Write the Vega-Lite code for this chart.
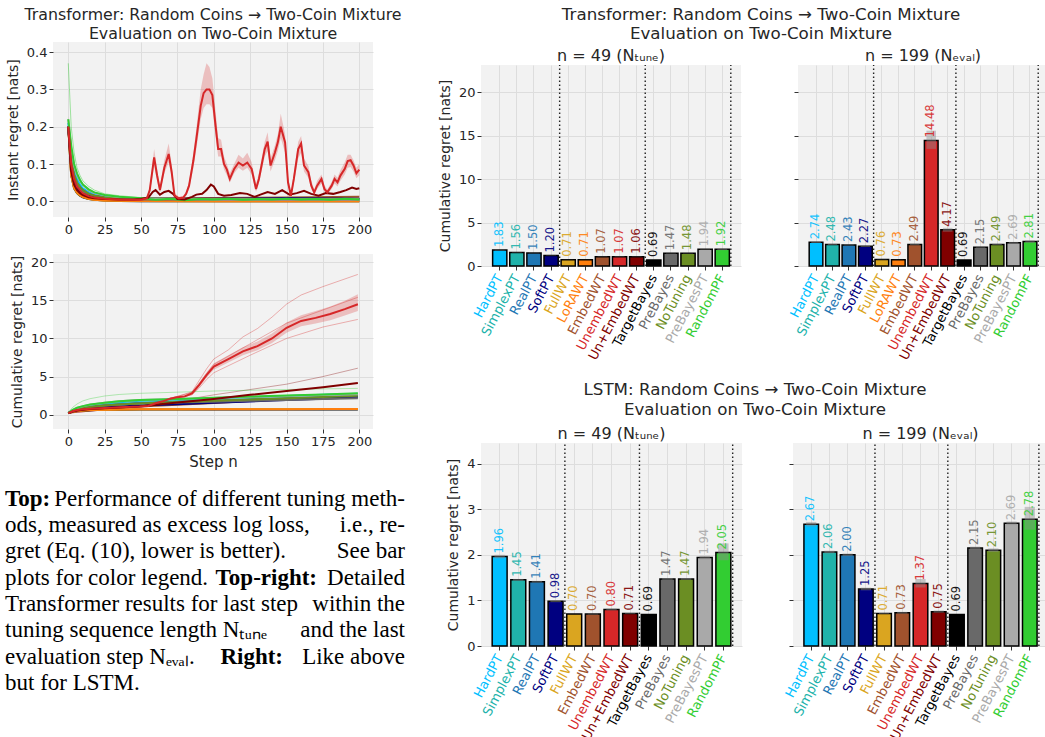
{
"$schema":"https://vega.github.io/schema/vega-lite/v6.json",
"padding":{"left":5,"top":7,"right":0,"bottom":0},
"background":"white",
"config":{
 "font":"DejaVu Sans",
 "view":{"fill":"#f2f2f2","stroke":null},
 "axis":{"gridColor":"#dddddd","domain":false,"tickColor":"#333333","tickSize":4,"labelColor":"#262626","labelFontSize":13,"titleFontSize":14,"titleFontWeight":"normal","titleColor":"#262626","labelPadding":2,"titlePadding":6,"labelFont":"DejaVu Sans","titleFont":"DejaVu Sans"},
 "title":{"fontWeight":"normal","color":"#262626","fontSize":15,"font":"DejaVu Sans"}
},
"datasets":{
"inst":[
{"m":"TargetBayes","n":0,"v":0.2},{"m":"TargetBayes","n":2,"v":0.07},{"m":"TargetBayes","n":4,"v":0.035},{"m":"TargetBayes","n":6,"v":0.022},{"m":"TargetBayes","n":8,"v":0.015},{"m":"TargetBayes","n":10,"v":0.011},{"m":"TargetBayes","n":14,"v":0.006},{"m":"TargetBayes","n":18,"v":0.004},{"m":"TargetBayes","n":25,"v":0.002},{"m":"TargetBayes","n":35,"v":0.001},{"m":"TargetBayes","n":50,"v":0.0005},{"m":"TargetBayes","n":100,"v":0.0003},{"m":"TargetBayes","n":150,"v":0.0002},{"m":"TargetBayes","n":200,"v":0.0002},
{"m":"FullWT","n":0,"v":0.2},{"m":"FullWT","n":2,"v":0.07},{"m":"FullWT","n":4,"v":0.036},{"m":"FullWT","n":6,"v":0.023},{"m":"FullWT","n":8,"v":0.016},{"m":"FullWT","n":10,"v":0.012},{"m":"FullWT","n":14,"v":0.007},{"m":"FullWT","n":18,"v":0.004},{"m":"FullWT","n":25,"v":0.002},{"m":"FullWT","n":35,"v":0.0015},{"m":"FullWT","n":50,"v":0.001},{"m":"FullWT","n":100,"v":0.0005},{"m":"FullWT","n":150,"v":0.0005},{"m":"FullWT","n":200,"v":0.0005},
{"m":"LoRAWT","n":0,"v":0.2},{"m":"LoRAWT","n":2,"v":0.072},{"m":"LoRAWT","n":4,"v":0.037},{"m":"LoRAWT","n":6,"v":0.024},{"m":"LoRAWT","n":8,"v":0.017},{"m":"LoRAWT","n":10,"v":0.012},{"m":"LoRAWT","n":14,"v":0.007},{"m":"LoRAWT","n":18,"v":0.004},{"m":"LoRAWT","n":25,"v":0.002},{"m":"LoRAWT","n":35,"v":0.0015},{"m":"LoRAWT","n":50,"v":0.001},{"m":"LoRAWT","n":100,"v":0.0003},{"m":"LoRAWT","n":150,"v":0.0003},{"m":"LoRAWT","n":200,"v":0.0003},
{"m":"EmbedWT","n":0,"v":0.2},{"m":"EmbedWT","n":2,"v":0.09},{"m":"EmbedWT","n":4,"v":0.05},{"m":"EmbedWT","n":6,"v":0.035},{"m":"EmbedWT","n":8,"v":0.027},{"m":"EmbedWT","n":10,"v":0.022},{"m":"EmbedWT","n":14,"v":0.016},{"m":"EmbedWT","n":18,"v":0.012},{"m":"EmbedWT","n":25,"v":0.01},{"m":"EmbedWT","n":35,"v":0.008},{"m":"EmbedWT","n":50,"v":0.007},{"m":"EmbedWT","n":100,"v":0.009},{"m":"EmbedWT","n":150,"v":0.01},{"m":"EmbedWT","n":200,"v":0.012},
{"m":"HardPT","n":0,"v":0.21},{"m":"HardPT","n":2,"v":0.12},{"m":"HardPT","n":4,"v":0.08},{"m":"HardPT","n":6,"v":0.06},{"m":"HardPT","n":8,"v":0.045},{"m":"HardPT","n":10,"v":0.035},{"m":"HardPT","n":14,"v":0.025},{"m":"HardPT","n":18,"v":0.018},{"m":"HardPT","n":25,"v":0.013},{"m":"HardPT","n":35,"v":0.009},{"m":"HardPT","n":50,"v":0.007},{"m":"HardPT","n":100,"v":0.006},{"m":"HardPT","n":150,"v":0.006},{"m":"HardPT","n":200,"v":0.006},
{"m":"SimplexPT","n":0,"v":0.2},{"m":"SimplexPT","n":2,"v":0.11},{"m":"SimplexPT","n":4,"v":0.07},{"m":"SimplexPT","n":6,"v":0.05},{"m":"SimplexPT","n":8,"v":0.04},{"m":"SimplexPT","n":10,"v":0.03},{"m":"SimplexPT","n":14,"v":0.02},{"m":"SimplexPT","n":18,"v":0.015},{"m":"SimplexPT","n":25,"v":0.011},{"m":"SimplexPT","n":35,"v":0.008},{"m":"SimplexPT","n":50,"v":0.006},{"m":"SimplexPT","n":100,"v":0.006},{"m":"SimplexPT","n":150,"v":0.006},{"m":"SimplexPT","n":200,"v":0.006},
{"m":"RealPT","n":0,"v":0.2},{"m":"RealPT","n":2,"v":0.105},{"m":"RealPT","n":4,"v":0.067},{"m":"RealPT","n":6,"v":0.048},{"m":"RealPT","n":8,"v":0.038},{"m":"RealPT","n":10,"v":0.029},{"m":"RealPT","n":14,"v":0.019},{"m":"RealPT","n":18,"v":0.014},{"m":"RealPT","n":25,"v":0.01},{"m":"RealPT","n":35,"v":0.008},{"m":"RealPT","n":50,"v":0.006},{"m":"RealPT","n":100,"v":0.006},{"m":"RealPT","n":150,"v":0.006},{"m":"RealPT","n":200,"v":0.006},
{"m":"SoftPT","n":0,"v":0.2},{"m":"SoftPT","n":2,"v":0.09},{"m":"SoftPT","n":4,"v":0.05},{"m":"SoftPT","n":6,"v":0.035},{"m":"SoftPT","n":8,"v":0.025},{"m":"SoftPT","n":10,"v":0.02},{"m":"SoftPT","n":14,"v":0.014},{"m":"SoftPT","n":18,"v":0.011},{"m":"SoftPT","n":25,"v":0.009},{"m":"SoftPT","n":35,"v":0.008},{"m":"SoftPT","n":50,"v":0.007},{"m":"SoftPT","n":100,"v":0.007},{"m":"SoftPT","n":150,"v":0.008},{"m":"SoftPT","n":200,"v":0.007},
{"m":"PreBayes","n":0,"v":0.2},{"m":"PreBayes","n":2,"v":0.11},{"m":"PreBayes","n":4,"v":0.07},{"m":"PreBayes","n":6,"v":0.05},{"m":"PreBayes","n":8,"v":0.038},{"m":"PreBayes","n":10,"v":0.03},{"m":"PreBayes","n":14,"v":0.02},{"m":"PreBayes","n":18,"v":0.015},{"m":"PreBayes","n":25,"v":0.01},{"m":"PreBayes","n":35,"v":0.007},{"m":"PreBayes","n":50,"v":0.005},{"m":"PreBayes","n":100,"v":0.0045},{"m":"PreBayes","n":150,"v":0.0045},{"m":"PreBayes","n":200,"v":0.0045},
{"m":"NoTuning","n":0,"v":0.2},{"m":"NoTuning","n":2,"v":0.11},{"m":"NoTuning","n":4,"v":0.07},{"m":"NoTuning","n":6,"v":0.05},{"m":"NoTuning","n":8,"v":0.038},{"m":"NoTuning","n":10,"v":0.03},{"m":"NoTuning","n":14,"v":0.02},{"m":"NoTuning","n":18,"v":0.015},{"m":"NoTuning","n":25,"v":0.01},{"m":"NoTuning","n":35,"v":0.008},{"m":"NoTuning","n":50,"v":0.007},{"m":"NoTuning","n":100,"v":0.0065},{"m":"NoTuning","n":150,"v":0.0065},{"m":"NoTuning","n":200,"v":0.0065},
{"m":"PreBayesPT","n":0,"v":0.22},{"m":"PreBayesPT","n":2,"v":0.14},{"m":"PreBayesPT","n":4,"v":0.095},{"m":"PreBayesPT","n":6,"v":0.07},{"m":"PreBayesPT","n":8,"v":0.055},{"m":"PreBayesPT","n":10,"v":0.045},{"m":"PreBayesPT","n":14,"v":0.03},{"m":"PreBayesPT","n":18,"v":0.022},{"m":"PreBayesPT","n":25,"v":0.016},{"m":"PreBayesPT","n":35,"v":0.011},{"m":"PreBayesPT","n":50,"v":0.007},{"m":"PreBayesPT","n":100,"v":0.005},{"m":"PreBayesPT","n":150,"v":0.005},{"m":"PreBayesPT","n":200,"v":0.005},
{"m":"RandomPF","n":0,"v":0.22},{"m":"RandomPF","n":2,"v":0.15},{"m":"RandomPF","n":4,"v":0.1},{"m":"RandomPF","n":6,"v":0.075},{"m":"RandomPF","n":8,"v":0.058},{"m":"RandomPF","n":10,"v":0.045},{"m":"RandomPF","n":14,"v":0.032},{"m":"RandomPF","n":18,"v":0.024},{"m":"RandomPF","n":25,"v":0.017},{"m":"RandomPF","n":35,"v":0.012},{"m":"RandomPF","n":50,"v":0.008},{"m":"RandomPF","n":60,"v":0.004},{"m":"RandomPF","n":70,"v":0.007},{"m":"RandomPF","n":80,"v":0.003},{"m":"RandomPF","n":90,"v":0.006},{"m":"RandomPF","n":100,"v":0.005},{"m":"RandomPF","n":110,"v":0.007},{"m":"RandomPF","n":120,"v":0.004},{"m":"RandomPF","n":130,"v":0.006},{"m":"RandomPF","n":140,"v":0.005},{"m":"RandomPF","n":150,"v":0.007},{"m":"RandomPF","n":160,"v":0.005},{"m":"RandomPF","n":170,"v":0.006},{"m":"RandomPF","n":180,"v":0.004},{"m":"RandomPF","n":190,"v":0.007},{"m":"RandomPF","n":200,"v":0.005},
{"m":"Un+EmbedWT","n":0,"v":0.2},{"m":"Un+EmbedWT","n":2,"v":0.08},{"m":"Un+EmbedWT","n":4,"v":0.045},{"m":"Un+EmbedWT","n":6,"v":0.03},{"m":"Un+EmbedWT","n":8,"v":0.022},{"m":"Un+EmbedWT","n":10,"v":0.017},{"m":"Un+EmbedWT","n":14,"v":0.011},{"m":"Un+EmbedWT","n":18,"v":0.008},{"m":"Un+EmbedWT","n":25,"v":0.006},{"m":"Un+EmbedWT","n":35,"v":0.005},{"m":"Un+EmbedWT","n":45,"v":0.005},{"m":"Un+EmbedWT","n":50,"v":0.006},{"m":"Un+EmbedWT","n":55,"v":0.01},{"m":"Un+EmbedWT","n":58,"v":0.025},{"m":"Un+EmbedWT","n":60,"v":0.03},{"m":"Un+EmbedWT","n":63,"v":0.018},{"m":"Un+EmbedWT","n":66,"v":0.025},{"m":"Un+EmbedWT","n":69,"v":0.028},{"m":"Un+EmbedWT","n":72,"v":0.02},{"m":"Un+EmbedWT","n":75,"v":0.006},{"m":"Un+EmbedWT","n":80,"v":0.005},{"m":"Un+EmbedWT","n":85,"v":0.012},{"m":"Un+EmbedWT","n":88,"v":0.018},{"m":"Un+EmbedWT","n":92,"v":0.02},{"m":"Un+EmbedWT","n":95,"v":0.03},{"m":"Un+EmbedWT","n":98,"v":0.045},{"m":"Un+EmbedWT","n":100,"v":0.04},{"m":"Un+EmbedWT","n":103,"v":0.02},{"m":"Un+EmbedWT","n":107,"v":0.015},{"m":"Un+EmbedWT","n":112,"v":0.017},{"m":"Un+EmbedWT","n":118,"v":0.022},{"m":"Un+EmbedWT","n":123,"v":0.02},{"m":"Un+EmbedWT","n":128,"v":0.012},{"m":"Un+EmbedWT","n":132,"v":0.018},{"m":"Un+EmbedWT","n":137,"v":0.025},{"m":"Un+EmbedWT","n":142,"v":0.02},{"m":"Un+EmbedWT","n":147,"v":0.03},{"m":"Un+EmbedWT","n":152,"v":0.018},{"m":"Un+EmbedWT","n":157,"v":0.022},{"m":"Un+EmbedWT","n":162,"v":0.028},{"m":"Un+EmbedWT","n":167,"v":0.02},{"m":"Un+EmbedWT","n":172,"v":0.015},{"m":"Un+EmbedWT","n":177,"v":0.022},{"m":"Un+EmbedWT","n":182,"v":0.02},{"m":"Un+EmbedWT","n":187,"v":0.025},{"m":"Un+EmbedWT","n":191,"v":0.03},{"m":"Un+EmbedWT","n":195,"v":0.037},{"m":"Un+EmbedWT","n":198,"v":0.033},{"m":"Un+EmbedWT","n":200,"v":0.035},
{"m":"UnembedWT","n":0,"v":0.2,"lo":0.17,"hi":0.23},{"m":"UnembedWT","n":2,"v":0.1,"lo":0.08,"hi":0.12},{"m":"UnembedWT","n":4,"v":0.06,"lo":0.05,"hi":0.07},{"m":"UnembedWT","n":6,"v":0.04,"lo":0.033,"hi":0.048},{"m":"UnembedWT","n":8,"v":0.03,"lo":0.024,"hi":0.036},{"m":"UnembedWT","n":10,"v":0.022,"lo":0.018,"hi":0.027},{"m":"UnembedWT","n":14,"v":0.014,"lo":0.011,"hi":0.018},{"m":"UnembedWT","n":18,"v":0.01,"lo":0.008,"hi":0.013},{"m":"UnembedWT","n":25,"v":0.007,"lo":0.005,"hi":0.009},{"m":"UnembedWT","n":35,"v":0.005,"lo":0.004,"hi":0.007},{"m":"UnembedWT","n":45,"v":0.004,"lo":0.003,"hi":0.006},{"m":"UnembedWT","n":50,"v":0.004,"lo":0.003,"hi":0.006},{"m":"UnembedWT","n":54,"v":0.008,"lo":0.005,"hi":0.012},{"m":"UnembedWT","n":56,"v":0.03,"lo":0.022,"hi":0.04},{"m":"UnembedWT","n":59,"v":0.118,"lo":0.095,"hi":0.14},{"m":"UnembedWT","n":61,"v":0.07,"lo":0.055,"hi":0.088},{"m":"UnembedWT","n":63,"v":0.03,"lo":0.022,"hi":0.04},{"m":"UnembedWT","n":66,"v":0.09,"lo":0.075,"hi":0.11},{"m":"UnembedWT","n":69,"v":0.127,"lo":0.105,"hi":0.155},{"m":"UnembedWT","n":71,"v":0.08,"lo":0.065,"hi":0.1},{"m":"UnembedWT","n":73,"v":0.015,"lo":0.01,"hi":0.022},{"m":"UnembedWT","n":76,"v":0.008,"lo":0.005,"hi":0.012},{"m":"UnembedWT","n":79,"v":0.01,"lo":0.007,"hi":0.014},{"m":"UnembedWT","n":81,"v":0.02,"lo":0.015,"hi":0.027},{"m":"UnembedWT","n":83,"v":0.042,"lo":0.033,"hi":0.052},{"m":"UnembedWT","n":86,"v":0.11,"lo":0.09,"hi":0.13},{"m":"UnembedWT","n":88,"v":0.167,"lo":0.14,"hi":0.195},{"m":"UnembedWT","n":91,"v":0.256,"lo":0.22,"hi":0.3},{"m":"UnembedWT","n":93,"v":0.29,"lo":0.25,"hi":0.34},{"m":"UnembedWT","n":95,"v":0.3,"lo":0.26,"hi":0.37},{"m":"UnembedWT","n":97,"v":0.3,"lo":0.26,"hi":0.36},{"m":"UnembedWT","n":99,"v":0.285,"lo":0.25,"hi":0.33},{"m":"UnembedWT","n":101,"v":0.21,"lo":0.18,"hi":0.25},{"m":"UnembedWT","n":103,"v":0.14,"lo":0.12,"hi":0.17},{"m":"UnembedWT","n":105,"v":0.14,"lo":0.12,"hi":0.165},{"m":"UnembedWT","n":107,"v":0.1,"lo":0.085,"hi":0.12},{"m":"UnembedWT","n":109,"v":0.085,"lo":0.07,"hi":0.1},{"m":"UnembedWT","n":111,"v":0.06,"lo":0.05,"hi":0.075},{"m":"UnembedWT","n":114,"v":0.087,"lo":0.075,"hi":0.1},{"m":"UnembedWT","n":117,"v":0.104,"lo":0.09,"hi":0.125},{"m":"UnembedWT","n":120,"v":0.096,"lo":0.082,"hi":0.115},{"m":"UnembedWT","n":123,"v":0.104,"lo":0.09,"hi":0.13},{"m":"UnembedWT","n":126,"v":0.087,"lo":0.072,"hi":0.105},{"m":"UnembedWT","n":129,"v":0.033,"lo":0.025,"hi":0.045},{"m":"UnembedWT","n":131,"v":0.06,"lo":0.048,"hi":0.075},{"m":"UnembedWT","n":135,"v":0.14,"lo":0.12,"hi":0.16},{"m":"UnembedWT","n":137,"v":0.16,"lo":0.135,"hi":0.185},{"m":"UnembedWT","n":139,"v":0.096,"lo":0.08,"hi":0.115},{"m":"UnembedWT","n":142,"v":0.131,"lo":0.11,"hi":0.15},{"m":"UnembedWT","n":144,"v":0.158,"lo":0.135,"hi":0.18},{"m":"UnembedWT","n":146,"v":0.2,"lo":0.17,"hi":0.235},{"m":"UnembedWT","n":149,"v":0.158,"lo":0.13,"hi":0.18},{"m":"UnembedWT","n":151,"v":0.051,"lo":0.04,"hi":0.065},{"m":"UnembedWT","n":153,"v":0.015,"lo":0.01,"hi":0.022},{"m":"UnembedWT","n":155,"v":0.06,"lo":0.048,"hi":0.075},{"m":"UnembedWT","n":158,"v":0.14,"lo":0.115,"hi":0.16},{"m":"UnembedWT","n":160,"v":0.155,"lo":0.13,"hi":0.175},{"m":"UnembedWT","n":162,"v":0.096,"lo":0.08,"hi":0.115},{"m":"UnembedWT","n":165,"v":0.078,"lo":0.063,"hi":0.095},{"m":"UnembedWT","n":167,"v":0.042,"lo":0.033,"hi":0.055},{"m":"UnembedWT","n":169,"v":0.024,"lo":0.018,"hi":0.032},{"m":"UnembedWT","n":171,"v":0.042,"lo":0.033,"hi":0.055},{"m":"UnembedWT","n":174,"v":0.06,"lo":0.048,"hi":0.072},{"m":"UnembedWT","n":176,"v":0.033,"lo":0.025,"hi":0.043},{"m":"UnembedWT","n":178,"v":0.024,"lo":0.018,"hi":0.032},{"m":"UnembedWT","n":181,"v":0.042,"lo":0.033,"hi":0.052},{"m":"UnembedWT","n":183,"v":0.06,"lo":0.048,"hi":0.072},{"m":"UnembedWT","n":185,"v":0.051,"lo":0.04,"hi":0.063},{"m":"UnembedWT","n":187,"v":0.069,"lo":0.055,"hi":0.083},{"m":"UnembedWT","n":190,"v":0.087,"lo":0.072,"hi":0.105},{"m":"UnembedWT","n":192,"v":0.108,"lo":0.09,"hi":0.125},{"m":"UnembedWT","n":194,"v":0.11,"lo":0.092,"hi":0.125},{"m":"UnembedWT","n":196,"v":0.096,"lo":0.08,"hi":0.11},{"m":"UnembedWT","n":198,"v":0.075,"lo":0.062,"hi":0.09},{"m":"UnembedWT","n":200,"v":0.085,"lo":0.07,"hi":0.1}
],
"instSeed":[
{"s":"g1","m":"RandomPF","n":0,"v":0.37},{"s":"g1","m":"RandomPF","n":2,"v":0.2},{"s":"g1","m":"RandomPF","n":4,"v":0.13},{"s":"g1","m":"RandomPF","n":6,"v":0.09},{"s":"g1","m":"RandomPF","n":8,"v":0.07},{"s":"g1","m":"RandomPF","n":10,"v":0.055},{"s":"g1","m":"RandomPF","n":14,"v":0.04},{"s":"g1","m":"RandomPF","n":18,"v":0.03},{"s":"g1","m":"RandomPF","n":25,"v":0.02},{"s":"g1","m":"RandomPF","n":35,"v":0.015},{"s":"g1","m":"RandomPF","n":50,"v":0.01},{"s":"g1","m":"RandomPF","n":100,"v":0.007},{"s":"g1","m":"RandomPF","n":150,"v":0.007},{"s":"g1","m":"RandomPF","n":200,"v":0.006}
],
"cum":[
{"m":"TargetBayes","n":0,"v":0.2},{"m":"TargetBayes","n":3,"v":0.38},{"m":"TargetBayes","n":6,"v":0.47},{"m":"TargetBayes","n":10,"v":0.53},{"m":"TargetBayes","n":15,"v":0.58},{"m":"TargetBayes","n":25,"v":0.63},{"m":"TargetBayes","n":35,"v":0.66},{"m":"TargetBayes","n":49,"v":0.69},{"m":"TargetBayes","n":75,"v":0.69},{"m":"TargetBayes","n":100,"v":0.69},{"m":"TargetBayes","n":125,"v":0.69},{"m":"TargetBayes","n":150,"v":0.69},{"m":"TargetBayes","n":175,"v":0.69},{"m":"TargetBayes","n":199,"v":0.69},
{"m":"FullWT","n":0,"v":0.2},{"m":"FullWT","n":3,"v":0.38},{"m":"FullWT","n":6,"v":0.48},{"m":"FullWT","n":10,"v":0.55},{"m":"FullWT","n":15,"v":0.6},{"m":"FullWT","n":25,"v":0.65},{"m":"FullWT","n":35,"v":0.68},{"m":"FullWT","n":49,"v":0.71},{"m":"FullWT","n":75,"v":0.72},{"m":"FullWT","n":100,"v":0.73},{"m":"FullWT","n":125,"v":0.74},{"m":"FullWT","n":150,"v":0.75},{"m":"FullWT","n":175,"v":0.755},{"m":"FullWT","n":199,"v":0.76},
{"m":"LoRAWT","n":0,"v":0.2},{"m":"LoRAWT","n":3,"v":0.38},{"m":"LoRAWT","n":6,"v":0.48},{"m":"LoRAWT","n":10,"v":0.55},{"m":"LoRAWT","n":15,"v":0.6},{"m":"LoRAWT","n":25,"v":0.65},{"m":"LoRAWT","n":35,"v":0.68},{"m":"LoRAWT","n":49,"v":0.71},{"m":"LoRAWT","n":75,"v":0.715},{"m":"LoRAWT","n":100,"v":0.72},{"m":"LoRAWT","n":125,"v":0.72},{"m":"LoRAWT","n":150,"v":0.725},{"m":"LoRAWT","n":175,"v":0.73},{"m":"LoRAWT","n":199,"v":0.73},
{"m":"EmbedWT","n":0,"v":0.2},{"m":"EmbedWT","n":3,"v":0.42},{"m":"EmbedWT","n":6,"v":0.56},{"m":"EmbedWT","n":10,"v":0.67},{"m":"EmbedWT","n":15,"v":0.76},{"m":"EmbedWT","n":25,"v":0.87},{"m":"EmbedWT","n":35,"v":0.96},{"m":"EmbedWT","n":49,"v":1.07},{"m":"EmbedWT","n":75,"v":1.3},{"m":"EmbedWT","n":100,"v":1.54},{"m":"EmbedWT","n":125,"v":1.78},{"m":"EmbedWT","n":150,"v":2.02},{"m":"EmbedWT","n":175,"v":2.26},{"m":"EmbedWT","n":199,"v":2.49},
{"m":"HardPT","n":0,"v":0.2},{"m":"HardPT","n":3,"v":0.55},{"m":"HardPT","n":6,"v":0.8},{"m":"HardPT","n":10,"v":1.0},{"m":"HardPT","n":15,"v":1.2},{"m":"HardPT","n":25,"v":1.45},{"m":"HardPT","n":35,"v":1.63},{"m":"HardPT","n":49,"v":1.83},{"m":"HardPT","n":75,"v":2.0},{"m":"HardPT","n":100,"v":2.15},{"m":"HardPT","n":125,"v":2.3},{"m":"HardPT","n":150,"v":2.45},{"m":"HardPT","n":175,"v":2.6},{"m":"HardPT","n":199,"v":2.74},
{"m":"SimplexPT","n":0,"v":0.2},{"m":"SimplexPT","n":3,"v":0.5},{"m":"SimplexPT","n":6,"v":0.7},{"m":"SimplexPT","n":10,"v":0.88},{"m":"SimplexPT","n":15,"v":1.03},{"m":"SimplexPT","n":25,"v":1.23},{"m":"SimplexPT","n":35,"v":1.39},{"m":"SimplexPT","n":49,"v":1.56},{"m":"SimplexPT","n":75,"v":1.72},{"m":"SimplexPT","n":100,"v":1.87},{"m":"SimplexPT","n":125,"v":2.02},{"m":"SimplexPT","n":150,"v":2.17},{"m":"SimplexPT","n":175,"v":2.33},{"m":"SimplexPT","n":199,"v":2.48},
{"m":"RealPT","n":0,"v":0.2},{"m":"RealPT","n":3,"v":0.5},{"m":"RealPT","n":6,"v":0.68},{"m":"RealPT","n":10,"v":0.85},{"m":"RealPT","n":15,"v":1.0},{"m":"RealPT","n":25,"v":1.2},{"m":"RealPT","n":35,"v":1.35},{"m":"RealPT","n":49,"v":1.5},{"m":"RealPT","n":75,"v":1.66},{"m":"RealPT","n":100,"v":1.81},{"m":"RealPT","n":125,"v":1.97},{"m":"RealPT","n":150,"v":2.12},{"m":"RealPT","n":175,"v":2.28},{"m":"RealPT","n":199,"v":2.43},
{"m":"SoftPT","n":0,"v":0.2},{"m":"SoftPT","n":3,"v":0.45},{"m":"SoftPT","n":6,"v":0.6},{"m":"SoftPT","n":10,"v":0.72},{"m":"SoftPT","n":15,"v":0.83},{"m":"SoftPT","n":25,"v":0.97},{"m":"SoftPT","n":35,"v":1.08},{"m":"SoftPT","n":49,"v":1.2},{"m":"SoftPT","n":75,"v":1.38},{"m":"SoftPT","n":100,"v":1.56},{"m":"SoftPT","n":125,"v":1.74},{"m":"SoftPT","n":150,"v":1.92},{"m":"SoftPT","n":175,"v":2.1},{"m":"SoftPT","n":199,"v":2.27},
{"m":"PreBayes","n":0,"v":0.2},{"m":"PreBayes","n":3,"v":0.52},{"m":"PreBayes","n":6,"v":0.72},{"m":"PreBayes","n":10,"v":0.88},{"m":"PreBayes","n":15,"v":1.02},{"m":"PreBayes","n":25,"v":1.2},{"m":"PreBayes","n":35,"v":1.33},{"m":"PreBayes","n":49,"v":1.47},{"m":"PreBayes","n":75,"v":1.59},{"m":"PreBayes","n":100,"v":1.7},{"m":"PreBayes","n":125,"v":1.82},{"m":"PreBayes","n":150,"v":1.93},{"m":"PreBayes","n":175,"v":2.04},{"m":"PreBayes","n":199,"v":2.15},
{"m":"NoTuning","n":0,"v":0.2},{"m":"NoTuning","n":3,"v":0.52},{"m":"NoTuning","n":6,"v":0.72},{"m":"NoTuning","n":10,"v":0.88},{"m":"NoTuning","n":15,"v":1.02},{"m":"NoTuning","n":25,"v":1.2},{"m":"NoTuning","n":35,"v":1.34},{"m":"NoTuning","n":49,"v":1.48},{"m":"NoTuning","n":75,"v":1.66},{"m":"NoTuning","n":100,"v":1.82},{"m":"NoTuning","n":125,"v":1.99},{"m":"NoTuning","n":150,"v":2.15},{"m":"NoTuning","n":175,"v":2.32},{"m":"NoTuning","n":199,"v":2.49},
{"m":"PreBayesPT","n":0,"v":0.2},{"m":"PreBayesPT","n":3,"v":0.6},{"m":"PreBayesPT","n":6,"v":0.88},{"m":"PreBayesPT","n":10,"v":1.1},{"m":"PreBayesPT","n":15,"v":1.3},{"m":"PreBayesPT","n":25,"v":1.55},{"m":"PreBayesPT","n":35,"v":1.75},{"m":"PreBayesPT","n":49,"v":1.94},{"m":"PreBayesPT","n":75,"v":2.07},{"m":"PreBayesPT","n":100,"v":2.2},{"m":"PreBayesPT","n":125,"v":2.32},{"m":"PreBayesPT","n":150,"v":2.45},{"m":"PreBayesPT","n":175,"v":2.57},{"m":"PreBayesPT","n":199,"v":2.69},
{"m":"RandomPF","n":0,"v":0.2},{"m":"RandomPF","n":3,"v":0.62},{"m":"RandomPF","n":6,"v":0.9},{"m":"RandomPF","n":10,"v":1.12},{"m":"RandomPF","n":15,"v":1.32},{"m":"RandomPF","n":25,"v":1.56},{"m":"RandomPF","n":35,"v":1.75},{"m":"RandomPF","n":49,"v":1.92},{"m":"RandomPF","n":75,"v":2.07},{"m":"RandomPF","n":100,"v":2.22},{"m":"RandomPF","n":125,"v":2.37},{"m":"RandomPF","n":150,"v":2.52},{"m":"RandomPF","n":175,"v":2.66},{"m":"RandomPF","n":199,"v":2.81},
{"m":"Un+EmbedWT","n":0,"v":0.2},{"m":"Un+EmbedWT","n":3,"v":0.42},{"m":"Un+EmbedWT","n":6,"v":0.55},{"m":"Un+EmbedWT","n":10,"v":0.65},{"m":"Un+EmbedWT","n":15,"v":0.73},{"m":"Un+EmbedWT","n":25,"v":0.84},{"m":"Un+EmbedWT","n":35,"v":0.94},{"m":"Un+EmbedWT","n":49,"v":1.06},{"m":"Un+EmbedWT","n":60,"v":1.3},{"m":"Un+EmbedWT","n":75,"v":1.6},{"m":"Un+EmbedWT","n":100,"v":2.05},{"m":"Un+EmbedWT","n":125,"v":2.6},{"m":"Un+EmbedWT","n":150,"v":3.1},{"m":"Un+EmbedWT","n":175,"v":3.6},{"m":"Un+EmbedWT","n":199,"v":4.17},
{"m":"UnembedWT","n":0,"v":0.2,"lo":0.19,"hi":0.21},{"m":"UnembedWT","n":3,"v":0.45,"lo":0.43,"hi":0.47},{"m":"UnembedWT","n":6,"v":0.6,"lo":0.57,"hi":0.63},{"m":"UnembedWT","n":10,"v":0.7,"lo":0.67,"hi":0.74},{"m":"UnembedWT","n":15,"v":0.78,"lo":0.74,"hi":0.82},{"m":"UnembedWT","n":25,"v":0.88,"lo":0.84,"hi":0.92},{"m":"UnembedWT","n":35,"v":0.96,"lo":0.91,"hi":1.01},{"m":"UnembedWT","n":49,"v":1.07,"lo":1.02,"hi":1.12},{"m":"UnembedWT","n":55,"v":1.15,"lo":1.1,"hi":1.2},{"m":"UnembedWT","n":60,"v":1.5,"lo":1.4,"hi":1.6},{"m":"UnembedWT","n":65,"v":1.75,"lo":1.65,"hi":1.87},{"m":"UnembedWT","n":70,"v":2.1,"lo":1.98,"hi":2.25},{"m":"UnembedWT","n":75,"v":2.3,"lo":2.17,"hi":2.45},{"m":"UnembedWT","n":80,"v":2.4,"lo":2.26,"hi":2.56},{"m":"UnembedWT","n":85,"v":2.8,"lo":2.6,"hi":3.0},{"m":"UnembedWT","n":90,"v":3.9,"lo":3.6,"hi":4.2},{"m":"UnembedWT","n":95,"v":5.2,"lo":4.85,"hi":5.55},{"m":"UnembedWT","n":100,"v":6.3,"lo":5.9,"hi":6.75},{"m":"UnembedWT","n":110,"v":7.3,"lo":6.85,"hi":7.8},{"m":"UnembedWT","n":120,"v":8.3,"lo":7.8,"hi":8.85},{"m":"UnembedWT","n":130,"v":9.0,"lo":8.45,"hi":9.6},{"m":"UnembedWT","n":140,"v":10.0,"lo":9.4,"hi":10.65},{"m":"UnembedWT","n":150,"v":11.4,"lo":10.75,"hi":12.1},{"m":"UnembedWT","n":160,"v":12.3,"lo":11.6,"hi":13.05},{"m":"UnembedWT","n":170,"v":12.7,"lo":11.95,"hi":13.6},{"m":"UnembedWT","n":180,"v":13.2,"lo":12.4,"hi":14.2},{"m":"UnembedWT","n":190,"v":13.85,"lo":13.0,"hi":14.95},{"m":"UnembedWT","n":199,"v":14.48,"lo":13.6,"hi":15.8}
],
"cumSeed":[
{"s":"r1","m":"UnembedWT","n":0,"v":0.2},{"s":"r1","m":"UnembedWT","n":49,"v":1.1},{"s":"r1","m":"UnembedWT","n":75,"v":2.4},{"s":"r1","m":"UnembedWT","n":85,"v":3.0},{"s":"r1","m":"UnembedWT","n":90,"v":4.5},{"s":"r1","m":"UnembedWT","n":95,"v":6.0},{"s":"r1","m":"UnembedWT","n":100,"v":7.3},{"s":"r1","m":"UnembedWT","n":110,"v":8.5},{"s":"r1","m":"UnembedWT","n":120,"v":10.2},{"s":"r1","m":"UnembedWT","n":130,"v":11.3},{"s":"r1","m":"UnembedWT","n":140,"v":12.8},{"s":"r1","m":"UnembedWT","n":150,"v":14.5},{"s":"r1","m":"UnembedWT","n":160,"v":15.7},{"s":"r1","m":"UnembedWT","n":175,"v":16.8},{"s":"r1","m":"UnembedWT","n":199,"v":18.4},
{"s":"r2","m":"UnembedWT","n":0,"v":0.2},{"s":"r2","m":"UnembedWT","n":49,"v":1.05},{"s":"r2","m":"UnembedWT","n":75,"v":2.2},{"s":"r2","m":"UnembedWT","n":85,"v":2.6},{"s":"r2","m":"UnembedWT","n":90,"v":3.5},{"s":"r2","m":"UnembedWT","n":95,"v":4.6},{"s":"r2","m":"UnembedWT","n":100,"v":5.5},{"s":"r2","m":"UnembedWT","n":125,"v":7.8},{"s":"r2","m":"UnembedWT","n":150,"v":10.0},{"s":"r2","m":"UnembedWT","n":175,"v":11.5},{"s":"r2","m":"UnembedWT","n":199,"v":12.5},
{"s":"r3","m":"UnembedWT","n":49,"v":1.08},{"s":"r3","m":"UnembedWT","n":85,"v":2.9},{"s":"r3","m":"UnembedWT","n":100,"v":6.6},{"s":"r3","m":"UnembedWT","n":150,"v":12.0},{"s":"r3","m":"UnembedWT","n":199,"v":15.4},
{"s":"k1","m":"Un+EmbedWT","n":0,"v":0.2},{"s":"k1","m":"Un+EmbedWT","n":49,"v":1.1},{"s":"k1","m":"Un+EmbedWT","n":75,"v":1.8},{"s":"k1","m":"Un+EmbedWT","n":100,"v":2.6},{"s":"k1","m":"Un+EmbedWT","n":125,"v":3.3},{"s":"k1","m":"Un+EmbedWT","n":150,"v":4.0},{"s":"k1","m":"Un+EmbedWT","n":175,"v":5.0},{"s":"k1","m":"Un+EmbedWT","n":199,"v":6.1},
{"s":"g1","m":"RandomPF","n":0,"v":0.3},{"s":"g1","m":"RandomPF","n":3,"v":0.95},{"s":"g1","m":"RandomPF","n":6,"v":1.4},{"s":"g1","m":"RandomPF","n":10,"v":1.8},{"s":"g1","m":"RandomPF","n":15,"v":2.1},{"s":"g1","m":"RandomPF","n":25,"v":2.45},{"s":"g1","m":"RandomPF","n":35,"v":2.65},{"s":"g1","m":"RandomPF","n":49,"v":2.8},{"s":"g1","m":"RandomPF","n":75,"v":2.95},{"s":"g1","m":"RandomPF","n":100,"v":3.1},{"s":"g1","m":"RandomPF","n":125,"v":3.2},{"s":"g1","m":"RandomPF","n":150,"v":3.3},{"s":"g1","m":"RandomPF","n":175,"v":3.38},{"s":"g1","m":"RandomPF","n":199,"v":3.45}
],
"nm":[{"lab":"Nₜᵤₙₑ","n":49},{"lab":"Nₜᵣₐᵢₙ","n":99},{"lab":"Nₑᵥₐₗ","n":199}],
"ttl":[{"line":1,"t":"LSTM: Random Coins → Two-Coin Mixture"},{"line":2,"t":"Evaluation on Two-Coin Mixture"}],
"grp":[
{"model":"T","n":49,"m":"SimplexPT","g":"Prefix T.","pos":"gap"},{"model":"T","n":49,"m":"EmbedWT","g":"Weight T.","pos":"mid"},{"model":"T","n":49,"m":"NoTuning","g":"Baselines","pos":"mid"},
{"model":"T","n":199,"m":"SimplexPT","g":"Prefix T.","pos":"gap"},{"model":"T","n":199,"m":"EmbedWT","g":"Weight T.","pos":"mid"},{"model":"T","n":199,"m":"NoTuning","g":"Baselines","pos":"mid"},
{"model":"L","n":49,"m":"SimplexPT","g":"Prefix T.","pos":"gap"},{"model":"L","n":49,"m":"EmbedWT","g":"Weight T.","pos":"gap"},{"model":"L","n":49,"m":"NoTuning","g":"Baselines","pos":"mid"},
{"model":"L","n":199,"m":"SimplexPT","g":"Prefix T.","pos":"gap"},{"model":"L","n":199,"m":"EmbedWT","g":"Weight T.","pos":"gap"},{"model":"L","n":199,"m":"NoTuning","g":"Baselines","pos":"mid"}
],
"bars":[
{"model":"T","n":49,"m":"HardPT","v":1.83,"lo":1.79,"hi":1.87},{"model":"T","n":49,"m":"SimplexPT","v":1.56,"lo":1.53,"hi":1.59},{"model":"T","n":49,"m":"RealPT","v":1.5,"lo":1.47,"hi":1.53},{"model":"T","n":49,"m":"SoftPT","v":1.2,"lo":1.17,"hi":1.23},{"model":"T","n":49,"m":"FullWT","v":0.71,"lo":0.7,"hi":0.72},{"model":"T","n":49,"m":"LoRAWT","v":0.71,"lo":0.7,"hi":0.72},{"model":"T","n":49,"m":"EmbedWT","v":1.07,"lo":1.04,"hi":1.1},{"model":"T","n":49,"m":"UnembedWT","v":1.07,"lo":1.03,"hi":1.11},{"model":"T","n":49,"m":"Un+EmbedWT","v":1.06,"lo":1.03,"hi":1.09},{"model":"T","n":49,"m":"TargetBayes","v":0.69,"lo":0.69,"hi":0.69},{"model":"T","n":49,"m":"PreBayes","v":1.47,"lo":1.44,"hi":1.5},{"model":"T","n":49,"m":"NoTuning","v":1.48,"lo":1.45,"hi":1.51},{"model":"T","n":49,"m":"PreBayesPT","v":1.94,"lo":1.88,"hi":2.0},{"model":"T","n":49,"m":"RandomPF","v":1.92,"lo":1.82,"hi":2.03},
{"model":"T","n":199,"m":"HardPT","v":2.74,"lo":2.66,"hi":2.82},{"model":"T","n":199,"m":"SimplexPT","v":2.48,"lo":2.42,"hi":2.54},{"model":"T","n":199,"m":"RealPT","v":2.43,"lo":2.37,"hi":2.49},{"model":"T","n":199,"m":"SoftPT","v":2.27,"lo":2.2,"hi":2.34},{"model":"T","n":199,"m":"FullWT","v":0.76,"lo":0.74,"hi":0.78},{"model":"T","n":199,"m":"LoRAWT","v":0.73,"lo":0.72,"hi":0.74},{"model":"T","n":199,"m":"EmbedWT","v":2.49,"lo":2.4,"hi":2.58},{"model":"T","n":199,"m":"UnembedWT","v":14.48,"lo":13.5,"hi":15.6},{"model":"T","n":199,"m":"Un+EmbedWT","v":4.17,"lo":3.95,"hi":4.4},{"model":"T","n":199,"m":"TargetBayes","v":0.69,"lo":0.69,"hi":0.69},{"model":"T","n":199,"m":"PreBayes","v":2.15,"lo":2.1,"hi":2.2},{"model":"T","n":199,"m":"NoTuning","v":2.49,"lo":2.42,"hi":2.56},{"model":"T","n":199,"m":"PreBayesPT","v":2.69,"lo":2.6,"hi":2.78},{"model":"T","n":199,"m":"RandomPF","v":2.81,"lo":2.65,"hi":3.0},
{"model":"L","n":49,"m":"HardPT","v":1.96,"lo":1.92,"hi":2.0},{"model":"L","n":49,"m":"SimplexPT","v":1.45,"lo":1.43,"hi":1.47},{"model":"L","n":49,"m":"RealPT","v":1.41,"lo":1.39,"hi":1.43},{"model":"L","n":49,"m":"SoftPT","v":0.98,"lo":0.96,"hi":1.0},{"model":"L","n":49,"m":"FullWT","v":0.7,"lo":0.7,"hi":0.7},{"model":"L","n":49,"m":"EmbedWT","v":0.7,"lo":0.69,"hi":0.71},{"model":"L","n":49,"m":"UnembedWT","v":0.8,"lo":0.78,"hi":0.82},{"model":"L","n":49,"m":"Un+EmbedWT","v":0.71,"lo":0.7,"hi":0.72},{"model":"L","n":49,"m":"TargetBayes","v":0.69,"lo":0.69,"hi":0.69},{"model":"L","n":49,"m":"PreBayes","v":1.47,"lo":1.45,"hi":1.49},{"model":"L","n":49,"m":"NoTuning","v":1.47,"lo":1.45,"hi":1.49},{"model":"L","n":49,"m":"PreBayesPT","v":1.94,"lo":1.9,"hi":1.98},{"model":"L","n":49,"m":"RandomPF","v":2.05,"lo":1.88,"hi":2.25},
{"model":"L","n":199,"m":"HardPT","v":2.67,"lo":2.62,"hi":2.72},{"model":"L","n":199,"m":"SimplexPT","v":2.06,"lo":2.03,"hi":2.09},{"model":"L","n":199,"m":"RealPT","v":2.0,"lo":1.97,"hi":2.03},{"model":"L","n":199,"m":"SoftPT","v":1.25,"lo":1.22,"hi":1.28},{"model":"L","n":199,"m":"FullWT","v":0.71,"lo":0.7,"hi":0.72},{"model":"L","n":199,"m":"EmbedWT","v":0.73,"lo":0.71,"hi":0.75},{"model":"L","n":199,"m":"UnembedWT","v":1.37,"lo":1.28,"hi":1.47},{"model":"L","n":199,"m":"Un+EmbedWT","v":0.75,"lo":0.73,"hi":0.78},{"model":"L","n":199,"m":"TargetBayes","v":0.69,"lo":0.69,"hi":0.69},{"model":"L","n":199,"m":"PreBayes","v":2.15,"lo":2.12,"hi":2.18},{"model":"L","n":199,"m":"NoTuning","v":2.1,"lo":2.06,"hi":2.14},{"model":"L","n":199,"m":"PreBayesPT","v":2.69,"lo":2.65,"hi":2.73},{"model":"L","n":199,"m":"RandomPF","v":2.78,"lo":2.55,"hi":3.05}
],
"txt":[
{"line":1,"p":"LB","t":"Top:"},{"line":1,"p":"R","t":"Performance of different tuning meth-"},
{"line":2,"p":"L","t":"ods, measured as excess log loss,"},{"line":2,"p":"R","t":"i.e., re-"},
{"line":3,"p":"L","t":"gret (Eq. (10), lower is better)."},{"line":3,"p":"R","t":"See bar"},
{"line":4,"p":"L","t":"plots for color legend."},{"line":4,"p":"M4","t":"Top-right:"},{"line":4,"p":"R","t":"Detailed"},
{"line":5,"p":"L","t":"Transformer results for last step"},{"line":5,"p":"R","t":"within the"},
{"line":6,"p":"L","t":"tuning sequence length Nₜᵤₙₑ"},{"line":6,"p":"R","t":"and the last"},
{"line":7,"p":"L","t":"evaluation step Nₑᵥₐₗ."},{"line":7,"p":"M7","t":"Right:"},{"line":7,"p":"R","t":"Like above"},
{"line":8,"p":"L","t":"but for LSTM."}
]
},
"hconcat":[
{"vconcat":[
  {"width":320,"height":175,
   "title":{"text":["Transformer: Random Coins → Two-Coin Mixture","Evaluation on Two-Coin Mixture"],"fontSize":15.8,"offset":-1,"lineHeight":19},
   "encoding":{
    "x":{"field":"n","type":"quantitative","title":null,"scale":{"domain":[-10.5,209.4],"nice":false,"zero":false},"axis":{"values":[0,25,50,75,100,125,150,175,200],"grid":true}},
    "y":{"field":"v","type":"quantitative","title":"Instant regret [nats]","scale":{"domain":[-0.042,0.427],"nice":false,"zero":false},"axis":{"values":[0,0.1,0.2,0.3,0.4],"format":".1f","grid":true}}},
   "layer":[
    {"data":{"name":"inst"},"transform":[{"filter":"datum.m == 'UnembedWT'"}],"mark":{"type":"area","color":"#d62728","opacity":0.25},
     "encoding":{"y":{"field":"lo","type":"quantitative","title":"Instant regret [nats]"},"y2":{"field":"hi"}}},
    {"data":{"name":"instSeed"},"mark":{"type":"line","strokeWidth":1,"opacity":0.45},
     "encoding":{"detail":{"field":"s"},
      "color":{"field":"m","type":"nominal","legend":null,"scale":{"domain":["HardPT","SimplexPT","RealPT","SoftPT","FullWT","LoRAWT","EmbedWT","UnembedWT","Un+EmbedWT","TargetBayes","PreBayes","NoTuning","PreBayesPT","RandomPF"],"range":["#00bfff","#20b2aa","#1f77b4","#000080","#daa520","#ff7f0e","#a0522d","#d62728","#800000","#000000","#696969","#6b8e23","#a9a9a9","#32cd32"]}}}},
    {"data":{"name":"inst"},"mark":{"type":"line","strokeWidth":2},
     "encoding":{
      "color":{"field":"m","type":"nominal","legend":null,"scale":{"domain":["HardPT","SimplexPT","RealPT","SoftPT","FullWT","LoRAWT","EmbedWT","UnembedWT","Un+EmbedWT","TargetBayes","PreBayes","NoTuning","PreBayesPT","RandomPF"],"range":["#00bfff","#20b2aa","#1f77b4","#000080","#daa520","#ff7f0e","#a0522d","#d62728","#800000","#000000","#696969","#6b8e23","#a9a9a9","#32cd32"]}}}},
    {"data":{"name":"nm"},"mark":{"type":"rule","strokeDash":[1.5,2],"color":"#333333","strokeWidth":1.4},
     "encoding":{"y":{"datum":-0.02,"type":"quantitative","title":"Instant regret [nats]"},"y2":{"datum":0.37}}},
    {"data":{"name":"nm"},"mark":{"type":"point","shape":"M-1,-0.55H1V0.55H-1Z","size":961,"filled":true,"color":"#dcdcdc","opacity":1},
     "encoding":{"y":{"datum":0.39,"type":"quantitative","title":"Instant regret [nats]"}}},
    {"data":{"name":"nm"},"mark":{"type":"text","fontSize":12,"color":"#262626"},
     "encoding":{"y":{"datum":0.39,"type":"quantitative","title":"Instant regret [nats]"},"text":{"field":"lab"}}}
   ]},
  {"width":320,"height":175,
   "encoding":{
    "x":{"field":"n","type":"quantitative","title":"Step n","scale":{"domain":[-10.5,209.4],"nice":false,"zero":false},"axis":{"values":[0,25,50,75,100,125,150,175,200],"grid":true,"titleFontSize":15}},
    "y":{"field":"v","type":"quantitative","title":"Cumulative regret [nats]","scale":{"domain":[-1.88,21.08],"nice":false,"zero":false},"axis":{"values":[0,5,10,15,20],"grid":true}}},
   "layer":[
    {"data":{"name":"cum"},"transform":[{"filter":"datum.m == 'UnembedWT'"}],"mark":{"type":"area","color":"#d62728","opacity":0.25},
     "encoding":{"y":{"field":"lo","type":"quantitative","title":"Cumulative regret [nats]"},"y2":{"field":"hi"}}},
    {"data":{"name":"cumSeed"},"mark":{"type":"line","strokeWidth":1,"opacity":0.35},
     "encoding":{"detail":{"field":"s"},
      "color":{"field":"m","type":"nominal","legend":null,"scale":{"domain":["HardPT","SimplexPT","RealPT","SoftPT","FullWT","LoRAWT","EmbedWT","UnembedWT","Un+EmbedWT","TargetBayes","PreBayes","NoTuning","PreBayesPT","RandomPF"],"range":["#00bfff","#20b2aa","#1f77b4","#000080","#daa520","#ff7f0e","#a0522d","#d62728","#800000","#000000","#696969","#6b8e23","#a9a9a9","#32cd32"]}}}},
    {"data":{"name":"cum"},"mark":{"type":"line","strokeWidth":2},
     "encoding":{
      "color":{"field":"m","type":"nominal","legend":null,"scale":{"domain":["HardPT","SimplexPT","RealPT","SoftPT","FullWT","LoRAWT","EmbedWT","UnembedWT","Un+EmbedWT","TargetBayes","PreBayes","NoTuning","PreBayesPT","RandomPF"],"range":["#00bfff","#20b2aa","#1f77b4","#000080","#daa520","#ff7f0e","#a0522d","#d62728","#800000","#000000","#696969","#6b8e23","#a9a9a9","#32cd32"]}}}},
    {"data":{"name":"nm"},"mark":{"type":"rule","strokeDash":[1.5,2],"color":"#333333","strokeWidth":1.4},
     "encoding":{"y":{"datum":-1,"type":"quantitative","title":"Cumulative regret [nats]"},"y2":{"datum":19}}},
    {"data":{"name":"nm"},"mark":{"type":"point","shape":"M-1,-0.55H1V0.55H-1Z","size":961,"filled":true,"color":"#dcdcdc","opacity":1},
     "encoding":{"y":{"datum":19.6,"type":"quantitative","title":"Cumulative regret [nats]"}}},
    {"data":{"name":"nm"},"mark":{"type":"text","fontSize":12,"color":"#262626"},
     "encoding":{"y":{"datum":19.6,"type":"quantitative","title":"Cumulative regret [nats]"},"text":{"field":"lab"}}}
   ]},
 {"width":352,"height":211,"view":{"fill":null,"stroke":null},
  "data":{"name":"txt"},
  "encoding":{"y":{"field":"line","type":"quantitative","scale":{"domain":[0.6,8.6],"reverse":true,"nice":false,"zero":false},"axis":null},"text":{"field":"t"}},
  "layer":[
   {"transform":[{"filter":"datum.p == 'L'"}],"mark":{"type":"text","align":"left","baseline":"middle","font":"Liberation Serif","fontSize":23,"color":"#000"},"encoding":{"x":{"datum":0,"type":"quantitative","scale":{"domain":[0.12,1]},"axis":null}}},
   {"transform":[{"filter":"datum.p == 'LB'"}],"mark":{"type":"text","align":"left","baseline":"middle","font":"Liberation Serif","fontSize":23,"fontWeight":"bold","color":"#000"},"encoding":{"x":{"datum":0,"type":"quantitative","scale":{"domain":[0.12,1]},"axis":null}}},
   {"transform":[{"filter":"datum.p == 'R'"}],"mark":{"type":"text","align":"right","baseline":"middle","font":"Liberation Serif","fontSize":23,"color":"#000"},"encoding":{"x":{"datum":1,"type":"quantitative","scale":{"domain":[0.12,1]},"axis":null}}},
   {"transform":[{"filter":"datum.p == 'M4'"}],"mark":{"type":"text","align":"right","baseline":"middle","font":"Liberation Serif","fontSize":23,"fontWeight":"bold","color":"#000","dx":-88},"encoding":{"x":{"datum":1,"type":"quantitative","scale":{"domain":[0.12,1]},"axis":null}}},
   {"transform":[{"filter":"datum.p == 'M7'"}],"mark":{"type":"text","align":"right","baseline":"middle","font":"Liberation Serif","fontSize":23,"fontWeight":"bold","color":"#000","dx":-122},"encoding":{"x":{"datum":1,"type":"quantitative","scale":{"domain":[0.12,1]},"axis":null}}}
  ]}
],"spacing":18},
{"vconcat":[
 {"width":560,"height":1,"view":{"fill":null,"stroke":null},
  "title":{"text":["Transformer: Random Coins → Two-Coin Mixture","Evaluation on Two-Coin Mixture"],"anchor":"middle","fontSize":16.7,"lineHeight":19,"offset":-1},
  "data":{"values":[]},"mark":{"type":"point","opacity":0},"encoding":{}},
 {"hconcat":[
   {"width":260,"height":201,"title":{"text":"n = 49 (Nₜᵤₙₑ)","fontSize":16,"offset":0},
    "data":{"name":"bars"},"transform":[{"filter":"datum.model == 'T' && datum.n == 49"}],
    "encoding":{
     "x":{"field":"m","type":"nominal","title":null,"scale":{"domain":["HardPT","SimplexPT","RealPT","SoftPT","FullWT","LoRAWT","EmbedWT","UnembedWT","Un+EmbedWT","TargetBayes","PreBayes","NoTuning","PreBayesPT","RandomPF"],"paddingInner":0.17,"paddingOuter":0.68},"axis":{"labelAngle":-62,"labelAlign":"right","labelBaseline":"middle","labelFontSize":13,"labelPadding":5,"grid":true,"labelColor":{"expr":"({'HardPT':'#00bfff','SimplexPT':'#20b2aa','RealPT':'#1f77b4','SoftPT':'#000080','FullWT':'#daa520','LoRAWT':'#ff7f0e','EmbedWT':'#a0522d','UnembedWT':'#d62728','Un+EmbedWT':'#800000','TargetBayes':'#000000','PreBayes':'#696969','NoTuning':'#6b8e23','PreBayesPT':'#a9a9a9','RandomPF':'#32cd32'})[datum.value]"}}},
     "y":{"field":"v","type":"quantitative","title":"Cumulative regret [nats]","scale":{"domain":[0,23.17],"nice":false},"axis":{"values":[0,5,10,15,20],"grid":true}}},
    "layer":[
     {"mark":{"type":"bar","stroke":"#000","strokeWidth":1.5},"encoding":{"color":{"field":"m","type":"nominal","legend":null,"scale":{"domain":["HardPT","SimplexPT","RealPT","SoftPT","FullWT","LoRAWT","EmbedWT","UnembedWT","Un+EmbedWT","TargetBayes","PreBayes","NoTuning","PreBayesPT","RandomPF"],"range":["#00bfff","#20b2aa","#1f77b4","#000080","#daa520","#ff7f0e","#a0522d","#d62728","#800000","#000000","#696969","#6b8e23","#a9a9a9","#32cd32"]}}}},
     {"mark":{"type":"bar","color":"#8c8c8c","opacity":0.45,"width":{"band":0.7}},"encoding":{"y":{"field":"lo","type":"quantitative","title":"Cumulative regret [nats]"},"y2":{"field":"hi"}}},
     {"mark":{"type":"text","angle":270,"align":"left","baseline":"middle","dx":3,"fontSize":11.5,"opacity":0.9},"encoding":{"text":{"field":"v","format":".2f"},"color":{"field":"m","type":"nominal","legend":null,"scale":{"domain":["HardPT","SimplexPT","RealPT","SoftPT","FullWT","LoRAWT","EmbedWT","UnembedWT","Un+EmbedWT","TargetBayes","PreBayes","NoTuning","PreBayesPT","RandomPF"],"range":["#00bfff","#20b2aa","#1f77b4","#000080","#daa520","#ff7f0e","#a0522d","#d62728","#800000","#000000","#696969","#6b8e23","#a9a9a9","#32cd32"]}}}},
     {"transform":[{"filter":"indexof(['SoftPT','Un+EmbedWT','RandomPF'], datum.m) >= 0"}],"mark":{"type":"rule","strokeDash":[1.5,2.5],"color":"#222","strokeWidth":1.4},"encoding":{"x":{"field":"m","type":"nominal","title":null,"bandPosition":1.102},"y":{"datum":0,"type":"quantitative","title":"Cumulative regret [nats]"},"y2":{"datum":23.17}}},
     {"data":{"name":"grp"},"transform":[{"filter":"datum.model == 'T' && datum.n == 49 && datum.pos == 'gap'"}],"encoding":{"x":{"field":"m","type":"nominal","title":null,"bandPosition":1.102},"y":{"datum":21.6,"type":"quantitative","title":"Cumulative regret [nats]"}},
      "layer":[{"mark":{"type":"point","shape":"M-1,-0.3H1V0.3H-1Z","size":3600,"filled":true,"color":"#e2e2e2","opacity":1}},{"mark":{"type":"text","fontWeight":"bold","fontSize":11,"color":"#333"},"encoding":{"text":{"field":"g"}}}]},
     {"data":{"name":"grp"},"transform":[{"filter":"datum.model == 'T' && datum.n == 49 && datum.pos == 'mid'"}],"encoding":{"x":{"field":"m","type":"nominal","title":null},"y":{"datum":21.6,"type":"quantitative","title":"Cumulative regret [nats]"}},
      "layer":[{"mark":{"type":"point","shape":"M-1,-0.3H1V0.3H-1Z","size":3844,"filled":true,"color":"#e2e2e2","opacity":1}},{"mark":{"type":"text","fontWeight":"bold","fontSize":11,"color":"#333"},"encoding":{"text":{"field":"g"}}}]}
    ]},
   {"width":250,"height":201,"title":{"text":"n = 199 (Nₑᵥₐₗ)","fontSize":16,"offset":0},
    "data":{"name":"bars"},"transform":[{"filter":"datum.model == 'T' && datum.n == 199"}],
    "encoding":{
     "x":{"field":"m","type":"nominal","title":null,"scale":{"domain":["HardPT","SimplexPT","RealPT","SoftPT","FullWT","LoRAWT","EmbedWT","UnembedWT","Un+EmbedWT","TargetBayes","PreBayes","NoTuning","PreBayesPT","RandomPF"],"paddingInner":0.17,"paddingOuter":0.68},"axis":{"labelAngle":-62,"labelAlign":"right","labelBaseline":"middle","labelFontSize":13,"labelPadding":5,"grid":true,"labelColor":{"expr":"({'HardPT':'#00bfff','SimplexPT':'#20b2aa','RealPT':'#1f77b4','SoftPT':'#000080','FullWT':'#daa520','LoRAWT':'#ff7f0e','EmbedWT':'#a0522d','UnembedWT':'#d62728','Un+EmbedWT':'#800000','TargetBayes':'#000000','PreBayes':'#696969','NoTuning':'#6b8e23','PreBayesPT':'#a9a9a9','RandomPF':'#32cd32'})[datum.value]"}}},
     "y":{"field":"v","type":"quantitative","title":null,"scale":{"domain":[0,23.17],"nice":false},"axis":{"values":[0,5,10,15,20],"grid":true,"labels":false}}},
    "layer":[
     {"mark":{"type":"bar","stroke":"#000","strokeWidth":1.5},"encoding":{"color":{"field":"m","type":"nominal","legend":null,"scale":{"domain":["HardPT","SimplexPT","RealPT","SoftPT","FullWT","LoRAWT","EmbedWT","UnembedWT","Un+EmbedWT","TargetBayes","PreBayes","NoTuning","PreBayesPT","RandomPF"],"range":["#00bfff","#20b2aa","#1f77b4","#000080","#daa520","#ff7f0e","#a0522d","#d62728","#800000","#000000","#696969","#6b8e23","#a9a9a9","#32cd32"]}}}},
     {"mark":{"type":"bar","color":"#8c8c8c","opacity":0.45,"width":{"band":0.7}},"encoding":{"y":{"field":"lo","type":"quantitative","title":null},"y2":{"field":"hi"}}},
     {"mark":{"type":"text","angle":270,"align":"left","baseline":"middle","dx":3,"fontSize":11.5,"opacity":0.9},"encoding":{"text":{"field":"v","format":".2f"},"color":{"field":"m","type":"nominal","legend":null,"scale":{"domain":["HardPT","SimplexPT","RealPT","SoftPT","FullWT","LoRAWT","EmbedWT","UnembedWT","Un+EmbedWT","TargetBayes","PreBayes","NoTuning","PreBayesPT","RandomPF"],"range":["#00bfff","#20b2aa","#1f77b4","#000080","#daa520","#ff7f0e","#a0522d","#d62728","#800000","#000000","#696969","#6b8e23","#a9a9a9","#32cd32"]}}}},
     {"transform":[{"filter":"indexof(['SoftPT','Un+EmbedWT','RandomPF'], datum.m) >= 0"}],"mark":{"type":"rule","strokeDash":[1.5,2.5],"color":"#222","strokeWidth":1.4},"encoding":{"x":{"field":"m","type":"nominal","title":null,"bandPosition":1.102},"y":{"datum":0,"type":"quantitative","title":null},"y2":{"datum":23.17}}},
     {"data":{"name":"grp"},"transform":[{"filter":"datum.model == 'T' && datum.n == 199 && datum.pos == 'gap'"}],"encoding":{"x":{"field":"m","type":"nominal","title":null,"bandPosition":1.102},"y":{"datum":21.6,"type":"quantitative","title":null}},
      "layer":[{"mark":{"type":"point","shape":"M-1,-0.3H1V0.3H-1Z","size":3600,"filled":true,"color":"#e2e2e2","opacity":1}},{"mark":{"type":"text","fontWeight":"bold","fontSize":11,"color":"#333"},"encoding":{"text":{"field":"g"}}}]},
     {"data":{"name":"grp"},"transform":[{"filter":"datum.model == 'T' && datum.n == 199 && datum.pos == 'mid'"}],"encoding":{"x":{"field":"m","type":"nominal","title":null},"y":{"datum":21.6,"type":"quantitative","title":null}},
      "layer":[{"mark":{"type":"point","shape":"M-1,-0.3H1V0.3H-1Z","size":3844,"filled":true,"color":"#e2e2e2","opacity":1}},{"mark":{"type":"text","fontWeight":"bold","fontSize":11,"color":"#333"},"encoding":{"text":{"field":"g"}}}]}
    ]}
  ],"spacing":47},
 {"width":548,"height":53,"view":{"fill":null,"stroke":null},
  "data":{"name":"ttl"},
  "mark":{"type":"text","align":"center","baseline":"middle","fontSize":16.7,"color":"#262626","font":"DejaVu Sans"},
  "encoding":{"x":{"datum":0.5,"type":"quantitative","scale":{"domain":[0,1]},"axis":null},
   "y":{"field":"line","type":"quantitative","scale":{"domain":[-0.184,2.605],"reverse":true,"nice":false,"zero":false},"axis":null},
   "text":{"field":"t"}}},
 {"hconcat":[
   {"width":261,"height":203,"title":{"text":"n = 49 (Nₜᵤₙₑ)","fontSize":16,"offset":0},
    "data":{"name":"bars"},"transform":[{"filter":"datum.model == 'L' && datum.n == 49"}],
    "encoding":{
     "x":{"field":"m","type":"nominal","title":null,"scale":{"domain":["HardPT","SimplexPT","RealPT","SoftPT","FullWT","EmbedWT","UnembedWT","Un+EmbedWT","TargetBayes","PreBayes","NoTuning","PreBayesPT","RandomPF"],"paddingInner":0.2,"paddingOuter":0.6},"axis":{"labelAngle":-62,"labelAlign":"right","labelBaseline":"middle","labelFontSize":13,"labelPadding":5,"grid":true,"labelColor":{"expr":"({'HardPT':'#00bfff','SimplexPT':'#20b2aa','RealPT':'#1f77b4','SoftPT':'#000080','FullWT':'#daa520','LoRAWT':'#ff7f0e','EmbedWT':'#a0522d','UnembedWT':'#d62728','Un+EmbedWT':'#800000','TargetBayes':'#000000','PreBayes':'#696969','NoTuning':'#6b8e23','PreBayesPT':'#a9a9a9','RandomPF':'#32cd32'})[datum.value]"}}},
     "y":{"field":"v","type":"quantitative","title":"Cumulative regret [nats]","scale":{"domain":[0,4.45],"nice":false},"axis":{"values":[0,1,2,3,4],"grid":true}}},
    "layer":[
     {"mark":{"type":"bar","stroke":"#000","strokeWidth":1.5},"encoding":{"color":{"field":"m","type":"nominal","legend":null,"scale":{"domain":["HardPT","SimplexPT","RealPT","SoftPT","FullWT","LoRAWT","EmbedWT","UnembedWT","Un+EmbedWT","TargetBayes","PreBayes","NoTuning","PreBayesPT","RandomPF"],"range":["#00bfff","#20b2aa","#1f77b4","#000080","#daa520","#ff7f0e","#a0522d","#d62728","#800000","#000000","#696969","#6b8e23","#a9a9a9","#32cd32"]}}}},
     {"mark":{"type":"bar","color":"#8c8c8c","opacity":0.45,"width":{"band":0.7}},"encoding":{"y":{"field":"lo","type":"quantitative","title":"Cumulative regret [nats]"},"y2":{"field":"hi"}}},
     {"mark":{"type":"text","angle":270,"align":"left","baseline":"middle","dx":3,"fontSize":11.5,"opacity":0.9},"encoding":{"text":{"field":"v","format":".2f"},"color":{"field":"m","type":"nominal","legend":null,"scale":{"domain":["HardPT","SimplexPT","RealPT","SoftPT","FullWT","LoRAWT","EmbedWT","UnembedWT","Un+EmbedWT","TargetBayes","PreBayes","NoTuning","PreBayesPT","RandomPF"],"range":["#00bfff","#20b2aa","#1f77b4","#000080","#daa520","#ff7f0e","#a0522d","#d62728","#800000","#000000","#696969","#6b8e23","#a9a9a9","#32cd32"]}}}},
     {"transform":[{"filter":"indexof(['SoftPT','Un+EmbedWT','RandomPF'], datum.m) >= 0"}],"mark":{"type":"rule","strokeDash":[1.5,2.5],"color":"#222","strokeWidth":1.4},"encoding":{"x":{"field":"m","type":"nominal","title":null,"bandPosition":1.125},"y":{"datum":0,"type":"quantitative","title":"Cumulative regret [nats]"},"y2":{"datum":4.45}}},
     {"data":{"name":"grp"},"transform":[{"filter":"datum.model == 'L' && datum.n == 49 && datum.pos == 'gap'"}],"encoding":{"x":{"field":"m","type":"nominal","title":null,"bandPosition":1.125},"y":{"datum":4.17,"type":"quantitative","title":"Cumulative regret [nats]"}},
      "layer":[{"mark":{"type":"point","shape":"M-1,-0.3H1V0.3H-1Z","size":3721,"filled":true,"color":"#e2e2e2","opacity":1}},{"mark":{"type":"text","fontWeight":"bold","fontSize":11,"color":"#333"},"encoding":{"text":{"field":"g"}}}]},
     {"data":{"name":"grp"},"transform":[{"filter":"datum.model == 'L' && datum.n == 49 && datum.pos == 'mid'"}],"encoding":{"x":{"field":"m","type":"nominal","title":null},"y":{"datum":4.17,"type":"quantitative","title":"Cumulative regret [nats]"}},
      "layer":[{"mark":{"type":"point","shape":"M-1,-0.3H1V0.3H-1Z","size":3844,"filled":true,"color":"#e2e2e2","opacity":1}},{"mark":{"type":"text","fontWeight":"bold","fontSize":11,"color":"#333"},"encoding":{"text":{"field":"g"}}}]}
    ]},
   {"width":255,"height":203,"title":{"text":"n = 199 (Nₑᵥₐₗ)","fontSize":16,"offset":0},
    "data":{"name":"bars"},"transform":[{"filter":"datum.model == 'L' && datum.n == 199"}],
    "encoding":{
     "x":{"field":"m","type":"nominal","title":null,"scale":{"domain":["HardPT","SimplexPT","RealPT","SoftPT","FullWT","EmbedWT","UnembedWT","Un+EmbedWT","TargetBayes","PreBayes","NoTuning","PreBayesPT","RandomPF"],"paddingInner":0.2,"paddingOuter":0.6},"axis":{"labelAngle":-62,"labelAlign":"right","labelBaseline":"middle","labelFontSize":13,"labelPadding":5,"grid":true,"labelColor":{"expr":"({'HardPT':'#00bfff','SimplexPT':'#20b2aa','RealPT':'#1f77b4','SoftPT':'#000080','FullWT':'#daa520','LoRAWT':'#ff7f0e','EmbedWT':'#a0522d','UnembedWT':'#d62728','Un+EmbedWT':'#800000','TargetBayes':'#000000','PreBayes':'#696969','NoTuning':'#6b8e23','PreBayesPT':'#a9a9a9','RandomPF':'#32cd32'})[datum.value]"}}},
     "y":{"field":"v","type":"quantitative","title":null,"scale":{"domain":[0,4.45],"nice":false},"axis":{"values":[0,1,2,3,4],"grid":true,"labels":false}}},
    "layer":[
     {"mark":{"type":"bar","stroke":"#000","strokeWidth":1.5},"encoding":{"color":{"field":"m","type":"nominal","legend":null,"scale":{"domain":["HardPT","SimplexPT","RealPT","SoftPT","FullWT","LoRAWT","EmbedWT","UnembedWT","Un+EmbedWT","TargetBayes","PreBayes","NoTuning","PreBayesPT","RandomPF"],"range":["#00bfff","#20b2aa","#1f77b4","#000080","#daa520","#ff7f0e","#a0522d","#d62728","#800000","#000000","#696969","#6b8e23","#a9a9a9","#32cd32"]}}}},
     {"mark":{"type":"bar","color":"#8c8c8c","opacity":0.45,"width":{"band":0.7}},"encoding":{"y":{"field":"lo","type":"quantitative","title":null},"y2":{"field":"hi"}}},
     {"mark":{"type":"text","angle":270,"align":"left","baseline":"middle","dx":3,"fontSize":11.5,"opacity":0.9},"encoding":{"text":{"field":"v","format":".2f"},"color":{"field":"m","type":"nominal","legend":null,"scale":{"domain":["HardPT","SimplexPT","RealPT","SoftPT","FullWT","LoRAWT","EmbedWT","UnembedWT","Un+EmbedWT","TargetBayes","PreBayes","NoTuning","PreBayesPT","RandomPF"],"range":["#00bfff","#20b2aa","#1f77b4","#000080","#daa520","#ff7f0e","#a0522d","#d62728","#800000","#000000","#696969","#6b8e23","#a9a9a9","#32cd32"]}}}},
     {"transform":[{"filter":"indexof(['SoftPT','Un+EmbedWT','RandomPF'], datum.m) >= 0"}],"mark":{"type":"rule","strokeDash":[1.5,2.5],"color":"#222","strokeWidth":1.4},"encoding":{"x":{"field":"m","type":"nominal","title":null,"bandPosition":1.125},"y":{"datum":0,"type":"quantitative","title":null},"y2":{"datum":4.45}}},
     {"data":{"name":"grp"},"transform":[{"filter":"datum.model == 'L' && datum.n == 199 && datum.pos == 'gap'"}],"encoding":{"x":{"field":"m","type":"nominal","title":null,"bandPosition":1.125},"y":{"datum":4.17,"type":"quantitative","title":null}},
      "layer":[{"mark":{"type":"point","shape":"M-1,-0.3H1V0.3H-1Z","size":3721,"filled":true,"color":"#e2e2e2","opacity":1}},{"mark":{"type":"text","fontWeight":"bold","fontSize":11,"color":"#333"},"encoding":{"text":{"field":"g"}}}]},
     {"data":{"name":"grp"},"transform":[{"filter":"datum.model == 'L' && datum.n == 199 && datum.pos == 'mid'"}],"encoding":{"x":{"field":"m","type":"nominal","title":null},"y":{"datum":4.17,"type":"quantitative","title":null}},
      "layer":[{"mark":{"type":"point","shape":"M-1,-0.3H1V0.3H-1Z","size":3844,"filled":true,"color":"#e2e2e2","opacity":1}},{"mark":{"type":"text","fontWeight":"bold","fontSize":11,"color":"#333"},"encoding":{"text":{"field":"g"}}}]}
    ]}
  ],"spacing":41}
],"spacing":5}
],
"spacing":33}
